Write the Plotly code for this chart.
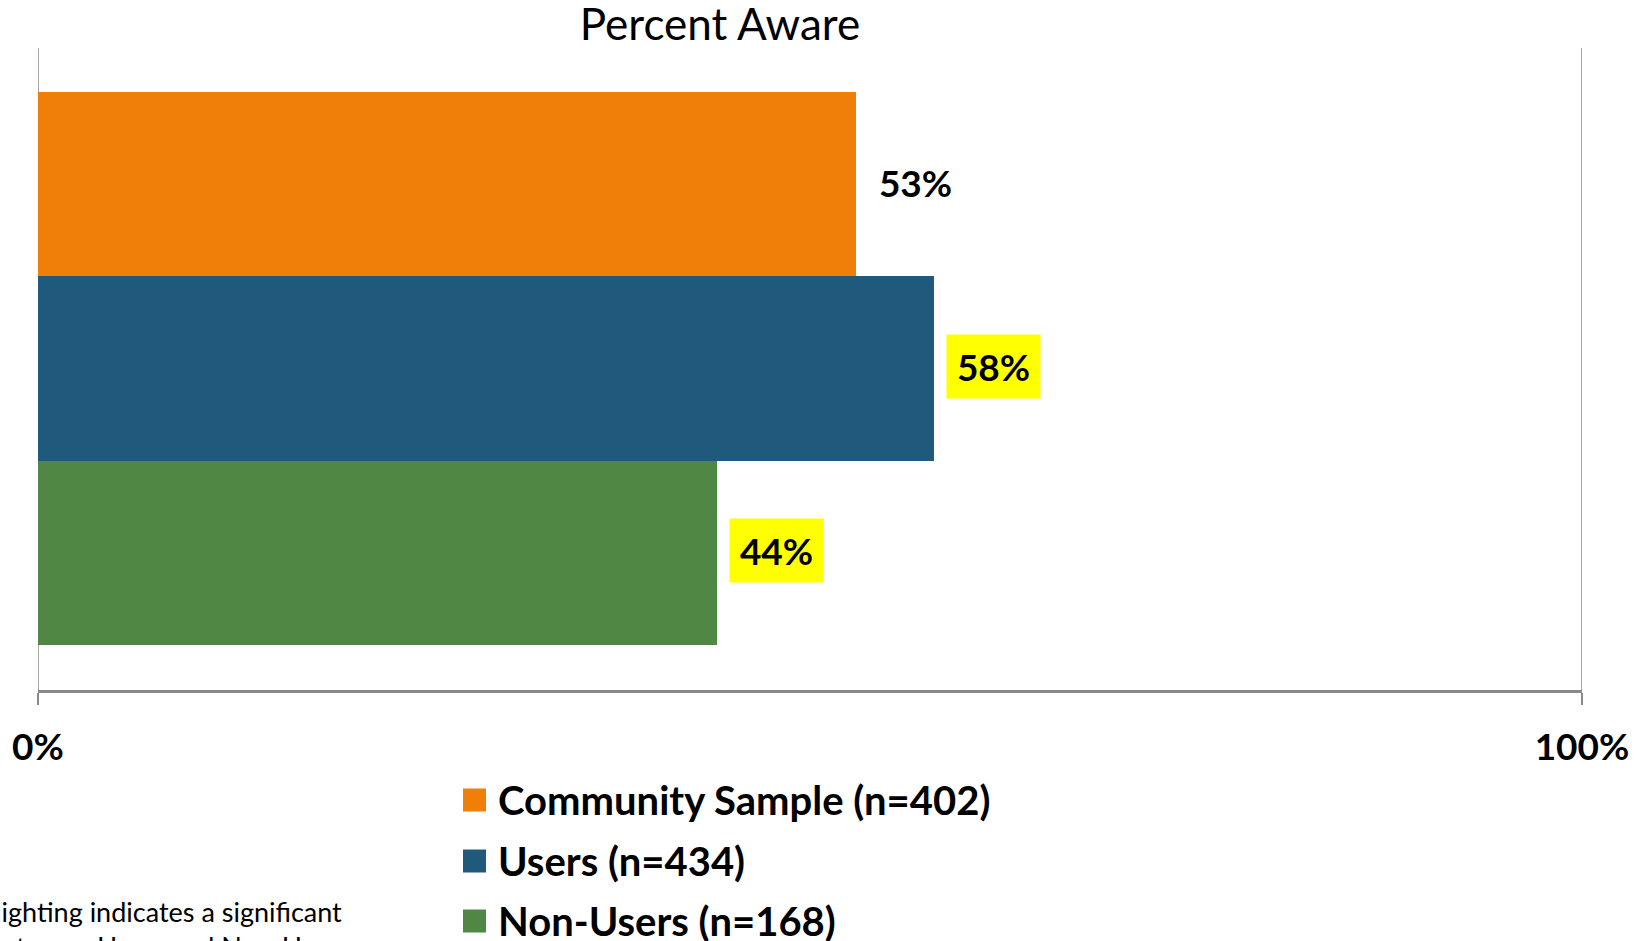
import plotly.graph_objects as go

# ---- data ----
groups = ["Community Sample (n=402)", "Users (n=434)", "Non-Users (n=168)"]
percent_aware = [53, 58, 44]
highlighted = [False, True, True]
bar_colors = ["#F07F09", "#1F5A7C", "#508744"]
x_tick_vals = [0, 100]
x_tick_text = ["0%", "100%"]
chart_title = "Percent Aware"
footnote_lines = ["Yellow highlighting indicates a significant",
                  "difference between Users and Non-Users"]

W, H = 1647, 941
L, R, T, B = 38, 65, 48, 251
PW, PH = W - L - R, H - T - B
FONT = "Lato"
GRAY = "#898989"


def px_x(px):
    return (px - L) / PW


def px_y(py):
    return (H - B - py) / PH


fig = go.Figure()
fig.add_trace(go.Bar(
    x=percent_aware, y=groups, orientation="h",
    marker=dict(color=bar_colors, line=dict(width=0)),
    showlegend=False, hoverinfo="x+y",
))

annotations = []
shapes = []

# vertical gridlines at each tick (edges of the value range)
for tv in x_tick_vals:
    shapes.append(dict(
        type="line", xref="x", yref="paper", x0=tv, x1=tv, y0=0, y1=1,
        line=dict(color=GRAY, width=1.5), layer="below",
    ))

# value labels at the end of each bar
for g, v, hl in zip(groups, percent_aware, highlighted):
    annotations.append(dict(
        x=v, y=g, xref="x", yref="y", text=f"{v}%",
        xanchor="left", yanchor="middle", xshift=12, yshift=2,
        showarrow=False, width=91, height=61, align="center",
        bgcolor="#FFFF00" if hl else "rgba(0,0,0,0)",
        font=dict(family=FONT, size=37, color="black", weight="bold"),
    ))

# legend drawn as squares + labels under the plot
row_centers = [800, 861, 921]
for name, col, cy in zip(groups, bar_colors, row_centers):
    shapes.append(dict(
        type="rect", xref="paper", yref="paper",
        x0=px_x(463), x1=px_x(486), y0=px_y(cy + 11.5), y1=px_y(cy - 11.5),
        fillcolor=col, line=dict(width=0),
    ))
    annotations.append(dict(
        x=px_x(496), y=px_y(cy), xref="paper", yref="paper", text=name,
        xanchor="left", yanchor="middle", showarrow=False,
        font=dict(family=FONT, size=40, color="black", weight="bold"),
    ))

# footnote at lower left
annotations.append(dict(
    x=px_x(350), y=px_y(893), xref="paper", yref="paper",
    text="<br>".join(footnote_lines), xanchor="right", yanchor="top",
    align="left", showarrow=False,
    font=dict(family=FONT, size=27, color="black"),
))

fig.update_layout(
    width=W, height=H,
    margin=dict(l=L, r=R, t=T, b=B, pad=0),
    paper_bgcolor="white", plot_bgcolor="white",
    bargap=0,
    title=dict(text=chart_title, x=px_x(720), xref="paper", xanchor="center",
               y=1 - 25 / H, yanchor="middle",
               font=dict(family=FONT, size=44, color="black")),
    annotations=annotations,
    shapes=shapes,
    showlegend=False,
)
fig.update_xaxes(
    range=[0, 100], tickvals=x_tick_vals, ticktext=x_tick_text,
    showgrid=False, zeroline=False,
    showline=True, linecolor=GRAY, linewidth=2.5,
    ticks="outside", ticklen=12, tickwidth=1.5, tickcolor=GRAY,
    ticklabelstandoff=11,
    tickfont=dict(family=FONT, size=37, color="black", weight="bold"),
)
fig.update_yaxes(
    type="category", range=[2.744, -0.739],
    showticklabels=False, showgrid=False, zeroline=False, showline=False,
)

fig.write_html("out.html")
